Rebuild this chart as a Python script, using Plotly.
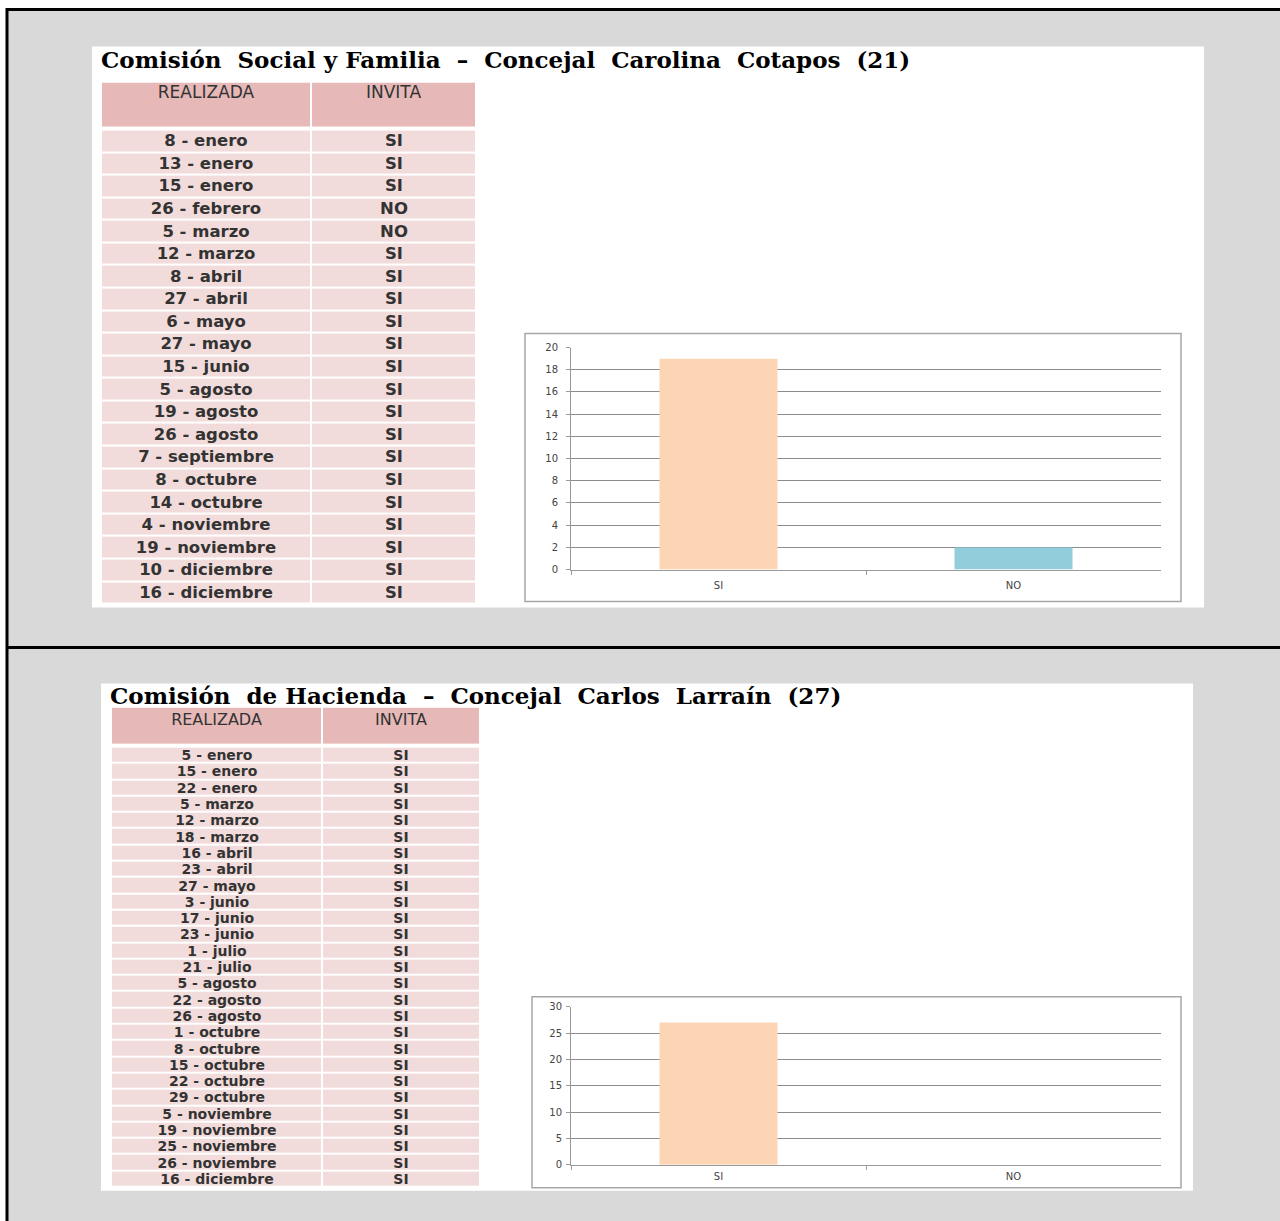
import plotly.graph_objects as go

W, H = 1280, 1221

# ---------------- data ----------------
title1 = "Comisión  Social y Familia  –  Concejal  Carolina  Cotapos  (21)"
dates1 = ["8 - enero", "13 - enero", "15 - enero", "26 - febrero", "5 - marzo", "12 - marzo",
          "8 - abril", "27 - abril", "6 - mayo", "27 - mayo", "15 - junio", "5 - agosto",
          "19 - agosto", "26 - agosto", "7 - septiembre", "8 - octubre", "14 - octubre",
          "4 - noviembre", "19 - noviembre", "10 - diciembre", "16 - diciembre"]
invita1 = ["SI", "SI", "SI", "NO", "NO", "SI", "SI", "SI", "SI", "SI", "SI", "SI",
           "SI", "SI", "SI", "SI", "SI", "SI", "SI", "SI", "SI"]
cats = ["SI", "NO"]
counts1 = [19, 2]

title2 = "Comisión  de Hacienda  –  Concejal  Carlos  Larraín  (27)"
dates2 = ["5 - enero", "15 - enero", "22 - enero", "5 - marzo", "12 - marzo", "18 - marzo",
          "16 - abril", "23 - abril", "27 - mayo", "3 - junio", "17 - junio", "23 - junio",
          "1 - julio", "21 - julio", "5 - agosto", "22 - agosto", "26 - agosto", "1 - octubre",
          "8 - octubre", "15 - octubre", "22 - octubre", "29 - octubre", "5 - noviembre",
          "19 - noviembre", "25 - noviembre", "26 - noviembre", "16 - diciembre"]
invita2 = ["SI"] * 27
counts2 = [27, 0]

headers = ["REALIZADA", "INVITA"]
bar_colors = ["#fcd5b5", "#92cddc"]

# ---------------- helpers ----------------
# small vertical calibration of the capture (observed offset / scale)
Y_OFF, Y_SCALE = 5.5, 0.990


def px(x):
    return x / W


def py(y):
    return 1 - ((y - Y_OFF) / Y_SCALE) / H


def rect(x0, y0, x1, y1, **kw):
    return dict(type="rect", xref="paper", yref="paper",
                x0=px(x0), x1=px(x1), y0=py(y1), y1=py(y0), layer="below", **kw)


TXT = "#333333"
HEAD_FILL = "#e6b8b7"
ROW_FILL = "#f2dcdb"

fig = go.Figure()


def add_table(dates, invita, left, split, right, top, head_h, gap, bottom,
              xa, ya, body_size, head_size, head_text_y):
    colw = [split - left, right - split]
    x_edges = [0, colw[0], colw[0] + colw[1]]
    x_centers = [colw[0] / 2, colw[0] + colw[1] / 2]
    total_h = bottom - top
    n = len(dates)
    body_top = head_h + gap
    rh = (total_h - body_top) / n
    y_edges_body = [body_top + i * rh for i in range(n + 1)]
    # header cells
    fig.add_trace(go.Heatmap(
        x=x_edges, y=[0, head_h], z=[[0, 0]],
        colorscale=[[0, HEAD_FILL], [1, HEAD_FILL]], showscale=False,
        xgap=2, ygap=0, hoverinfo="skip", xaxis=xa, yaxis=ya))
    # body cells with text
    fig.add_trace(go.Heatmap(
        x=x_edges, y=y_edges_body, z=[[0, 0] for _ in range(n)],
        text=[[d, v] for d, v in zip(dates, invita)], texttemplate="%{text}",
        textfont=dict(family="DejaVu Sans", size=body_size, color=TXT, weight="bold"),
        colorscale=[[0, ROW_FILL], [1, ROW_FILL]], showscale=False,
        xgap=2, ygap=2, hoverinfo="skip", xaxis=xa, yaxis=ya))
    # header labels
    fig.add_trace(go.Scatter(
        x=x_centers, y=[head_text_y, head_text_y], text=headers, mode="text",
        textposition="middle center", hoverinfo="skip", showlegend=False,
        textfont=dict(family="DejaVu Sans", size=head_size, color=TXT),
        xaxis=xa, yaxis=ya))
    return colw[0] + colw[1], total_h


w1, h1 = add_table(dates1, invita1, 101, 311, 476, 82, 44, 3, 603, "x3", "y3", 16.5, 17, 11)
w2, h2 = add_table(dates2, invita2, 111, 322, 480, 707, 36, 3, 1186, "x4", "y4", 14, 16, 13)

# ---------------- bar charts ----------------
fig.add_trace(go.Bar(x=cats, y=counts1, marker=dict(color=bar_colors, line=dict(width=0)),
                     width=0.4, xaxis="x", yaxis="y", showlegend=False, hoverinfo="x+y"))
fig.add_trace(go.Bar(x=cats, y=counts2, marker=dict(color=bar_colors, line=dict(width=0)),
                     width=0.4, xaxis="x2", yaxis="y2", showlegend=False, hoverinfo="x+y"))

axis_common = dict(showline=True, linecolor="#9a9a9a", linewidth=1, ticks="outside",
                   ticklen=4, tickcolor="#9a9a9a", zeroline=False, fixedrange=True,
                   tickfont=dict(family="DejaVu Sans", size=10, color="#444444"))
hidden = dict(visible=False, fixedrange=True, showgrid=False, zeroline=False)

fig.update_layout(
    xaxis=dict(domain=[px(571), px(1161)], anchor="y", tickson="boundaries",
               showgrid=False, ticklabelstandoff=6, **axis_common),
    yaxis=dict(domain=[py(569), py(347)], anchor="x", range=[0, 20], dtick=2,
               showgrid=True, gridcolor="#8c8c8c", gridwidth=1, ticklabelstandoff=6,
               **axis_common),
    xaxis2=dict(domain=[px(571), px(1161)], anchor="y2", tickson="boundaries",
                showgrid=False, ticklabelstandoff=2, **axis_common),
    yaxis2=dict(domain=[py(1164), py(1006)], anchor="x2", range=[0, 30], dtick=5,
                showgrid=True, gridcolor="#8c8c8c", gridwidth=1, ticklabelstandoff=2,
                **axis_common),
    xaxis3=dict(domain=[px(101), px(476)], anchor="y3", range=[0, w1], **hidden),
    yaxis3=dict(domain=[py(603), py(82)], anchor="x3", range=[h1, 0], **hidden),
    xaxis4=dict(domain=[px(111), px(480)], anchor="y4", range=[0, w2], **hidden),
    yaxis4=dict(domain=[py(1186), py(707)], anchor="x4", range=[h2, 0], **hidden),
)

# ---------------- backgrounds / frames ----------------
shapes = [
    rect(7, 9, 1285, 1240, fillcolor="#d9d9d9", line=dict(color="black", width=3)),
    rect(92, 46, 1204, 607, fillcolor="white", line=dict(width=0)),
    rect(101, 683, 1193, 1190, fillcolor="white", line=dict(width=0)),
    rect(525, 333, 1181, 601, fillcolor="rgba(0,0,0,0)", line=dict(color="#a6a6a6", width=1.5)),
    rect(532, 996, 1181, 1187, fillcolor="rgba(0,0,0,0)", line=dict(color="#a6a6a6", width=1.5)),
    dict(type="line", xref="paper", yref="paper", x0=px(7), x1=1.01, y0=py(647), y1=py(647),
         line=dict(color="black", width=3), layer="below"),
]

annotations = [
    dict(text="<b>" + title1 + "</b>", xref="paper", yref="paper", x=px(99), y=py(59),
         xanchor="left", yanchor="middle", showarrow=False,
         font=dict(family="DejaVu Serif", size=23, color="black")),
    dict(text="<b>" + title2 + "</b>", xref="paper", yref="paper", x=px(108), y=py(695),
         xanchor="left", yanchor="middle", showarrow=False,
         font=dict(family="DejaVu Serif", size=23, color="black")),
]

fig.update_layout(
    width=W, height=H, margin=dict(l=0, r=0, t=0, b=0),
    paper_bgcolor="white", plot_bgcolor="rgba(0,0,0,0)",
    shapes=shapes, annotations=annotations, bargap=0.6, showlegend=False,
)

POST = ("document.documentElement.style.margin='0';"
        "document.body.style.margin='0';document.body.style.overflow='hidden';"
        "var gd=document.getElementById('{plot_id}');"
        "gd.style.position='absolute';gd.style.top='0px';gd.style.left='0px';")

fig.write_html("out.html", config={"displayModeBar": False}, post_script=POST)
